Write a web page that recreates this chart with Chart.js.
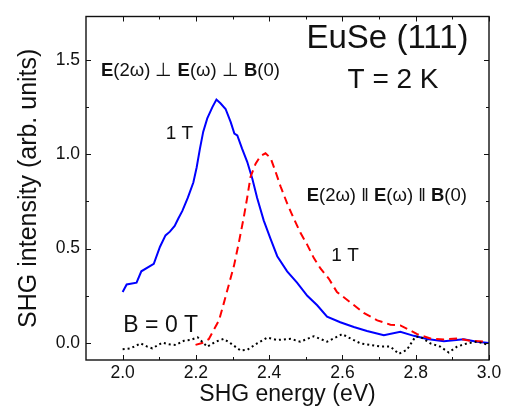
<!DOCTYPE html>
<html>
<head>
<meta charset="utf-8">
<script src="https://cdn.jsdelivr.net/npm/chart.js@4"></script>
<style>
  html, body { margin: 0; padding: 0; background: #fff; }
  #wrap { width: 507px; height: 408px; }
</style>
</head>
<body>
<div id="wrap"><canvas id="shg" width="507" height="408"></canvas></div>
<script>
// --- data ---
// E(2w) perp E(w) perp B(0), 1 T (blue solid)
const perpX = [2.000, 2.011, 2.038, 2.051, 2.085, 2.102, 2.117, 2.129, 2.142, 2.152, 2.163, 2.178, 2.193, 2.202,
  2.211, 2.220, 2.231, 2.245, 2.256, 2.267, 2.281, 2.295, 2.305, 2.313, 2.326, 2.340, 2.354, 2.367, 2.385, 2.404,
  2.422, 2.449, 2.476, 2.504, 2.531, 2.558, 2.594, 2.631, 2.667, 2.713, 2.758, 2.795, 2.831, 2.877, 2.931, 2.967, 3.000];
const perpY = [0.27, 0.31, 0.32, 0.38, 0.42, 0.51, 0.57, 0.59, 0.62, 0.66, 0.70, 0.77, 0.85, 0.93,
  1.03, 1.12, 1.19, 1.25, 1.29, 1.27, 1.24, 1.17, 1.11, 1.10, 1.03, 0.96, 0.87, 0.77, 0.65, 0.55,
  0.46, 0.38, 0.32, 0.25, 0.20, 0.14, 0.11, 0.085, 0.064, 0.041, 0.059, 0.038, 0.021, 0.010, 0.020, 0.007, 0.000];

// E(2w) || E(w) || B(0), 1 T (red dashed)
const parX = [2.199, 2.217, 2.235, 2.249, 2.263, 2.276, 2.290, 2.304, 2.317, 2.331, 2.340, 2.349, 2.363, 2.376,
  2.390, 2.404, 2.417, 2.431, 2.449, 2.467, 2.485, 2.504, 2.522, 2.540, 2.563, 2.585, 2.622, 2.658, 2.695,
  2.731, 2.758, 2.785, 2.804, 2.840, 2.877, 2.913, 2.949, 2.995];
const parY = [-0.01, 0.00, 0.02, 0.07, 0.12, 0.21, 0.31, 0.41, 0.53, 0.67, 0.77, 0.88, 0.95, 0.99,
  1.005, 0.98, 0.91, 0.83, 0.74, 0.66, 0.585, 0.52, 0.45, 0.395, 0.34, 0.27, 0.215, 0.16, 0.12,
  0.097, 0.093, 0.067, 0.047, 0.024, 0.019, 0.024, 0.012, 0.007];

// B = 0 T (black dotted)
const zeroX = [2.000, 2.022, 2.049, 2.067, 2.081, 2.108, 2.126, 2.145, 2.167, 2.185, 2.205, 2.231, 2.254, 2.276,
  2.295, 2.322, 2.340, 2.367, 2.395, 2.422, 2.458, 2.485, 2.522, 2.558, 2.576, 2.599, 2.622, 2.649, 2.676,
  2.704, 2.731, 2.754, 2.776, 2.799, 2.813, 2.840, 2.867, 2.890, 2.913, 2.940, 2.967, 3.000];
const zeroY = [-0.033, -0.028, -0.002, -0.019, -0.028, 0.002, -0.007, -0.010, 0.012, 0.016, 0.030, -0.020, 0.007, 0.022,
  -0.002, -0.040, -0.036, -0.002, 0.029, 0.016, 0.022, 0.007, 0.036, 0.007, 0.024, 0.047, 0.024, -0.002, -0.010,
  -0.019, -0.019, -0.057, -0.036, 0.033, 0.033, -0.002, -0.019, -0.050, -0.019, -0.002, 0.007, -0.010];

// axes
const xMin = 1.9, xMax = 3.0;
const yMin = -0.09, yMax = 1.73;
const xMajor = [2.0, 2.2, 2.4, 2.6, 2.8, 3.0];
const xMinor = [2.1, 2.3, 2.5, 2.7, 2.9];
const yMajor = [0.0, 0.5, 1.0, 1.5];
const yMinor = [0.25, 0.75, 1.25];

const FONT = '"Liberation Sans", Arial, sans-serif';
const INK = '#111';

const pts = (xs, ys) => xs.map((x, i) => ({ x, y: ys[i] }));

// text labels inside the plot: [parts, x, y, size] ; parts = [text, bold]
const notes = [
  [[['EuSe (111)', false]], 2.723, 1.61, 33],
  [[['T = 2 K', false]], 2.738, 1.39, 28],
  [[['E', true], ['(2\u03C9) \u22A5 ', false], ['E', true], ['(\u03C9) \u22A5 ', false], ['B', true], ['(0)', false]], 2.185, 1.44, 18.5],
  [[['1 T', false]], 2.155, 1.11, 19],
  [[['E', true], ['(2\u03C9) \u2016 ', false], ['E', true], ['(\u03C9) \u2016 ', false], ['B', true], ['(0)', false]], 2.721, 0.78, 18.5],
  [[['1 T', false]], 2.607, 0.46, 19],
  [[['B = 0 T', false]], 2.104, 0.09, 23],
];

function drawRich(ctx, parts, cx, cy, size) {
  let w = 0;
  parts.forEach(p => {
    ctx.font = (p[1] ? 'bold ' : '') + size + 'px ' + FONT;
    w += ctx.measureText(p[0]).width;
  });
  let x = cx - w / 2;
  parts.forEach(p => {
    ctx.font = (p[1] ? 'bold ' : '') + size + 'px ' + FONT;
    ctx.fillText(p[0], x, cy);
    x += ctx.measureText(p[0]).width;
  });
}

const framePlugin = {
  id: 'frame',
  afterDatasetsDraw(chart) {
    const { ctx, chartArea: a, scales: { x, y } } = chart;
    ctx.save();
    ctx.fillStyle = INK;
    ctx.textAlign = 'left';
    ctx.textBaseline = 'middle';
    notes.forEach(n => drawRich(ctx, n[0], x.getPixelForValue(n[1]), y.getPixelForValue(n[2]), n[3]));

    ctx.strokeStyle = INK;
    ctx.lineWidth = 1.4;
    ctx.strokeRect(a.left, a.top, a.right - a.left, a.bottom - a.top);

    // inward ticks on all four sides
    ctx.lineWidth = 1;
    ctx.beginPath();
    const xt = (v, len) => {
      const px = Math.round(x.getPixelForValue(v)) + 0.5;
      ctx.moveTo(px, a.bottom); ctx.lineTo(px, a.bottom - len);
      ctx.moveTo(px, a.top); ctx.lineTo(px, a.top + len);
    };
    const yt = (v, len) => {
      const py = Math.round(y.getPixelForValue(v)) + 0.5;
      ctx.moveTo(a.left, py); ctx.lineTo(a.left + len, py);
      ctx.moveTo(a.right, py); ctx.lineTo(a.right - len, py);
    };
    xMajor.forEach(v => xt(v, 5));
    xMinor.forEach(v => xt(v, 3));
    yMajor.forEach(v => yt(v, 5));
    yMinor.forEach(v => yt(v, 3));
    ctx.stroke();
    ctx.restore();
  }
};

new Chart(document.getElementById('shg').getContext('2d'), {
  type: 'scatter',
  data: {
    datasets: [
      {
        label: '0 T',
        data: pts(zeroX, zeroY),
        showLine: true,
        borderColor: '#000',
        borderWidth: 2,
        borderDash: [2, 3],
        pointRadius: 0,
        tension: 0,
      },
      {
        label: 'par 1 T',
        data: pts(parX, parY),
        showLine: true,
        borderColor: '#ff0000',
        borderWidth: 2,
        borderDash: [8, 5],
        pointRadius: 0,
        tension: 0,
      },
      {
        label: 'perp 1 T',
        data: pts(perpX, perpY),
        showLine: true,
        borderColor: '#0000ff',
        borderWidth: 2,
        pointRadius: 0,
        tension: 0,
      },
    ]
  },
  options: {
    responsive: false,
    animation: false,
    layout: { padding: { top: 9, right: 18, left: 0, bottom: 0 } },
    plugins: {
      legend: { display: false },
      tooltip: { enabled: false }
    },
    scales: {
      x: {
        type: 'linear',
        min: xMin, max: xMax,
        grid: { display: false, drawTicks: false },
        border: { display: false },
        afterBuildTicks: s => { s.ticks = xMajor.map(v => ({ value: v })); },
        afterFit: s => { s.height = 48; },
        ticks: {
          padding: 3,
          color: INK,
          font: { family: FONT, size: 17.5 },
          maxRotation: 0,
          callback: v => v.toFixed(1)
        },
        title: {
          display: true,
          text: 'SHG energy (eV)',
          color: INK,
          font: { family: FONT, size: 23 },
          padding: { top: 0, bottom: 0 }
        }
      },
      y: {
        type: 'linear',
        min: yMin, max: yMax,
        grid: { display: false, drawTicks: false },
        border: { display: false },
        afterBuildTicks: s => { s.ticks = yMajor.map(v => ({ value: v })); },
        afterFit: s => { s.width = 86; },
        ticks: {
          padding: 6,
          color: INK,
          font: { family: FONT, size: 17.5 },
          callback: v => v.toFixed(1)
        },
        title: {
          display: true,
          text: 'SHG intensity (arb. units)',
          color: INK,
          font: { family: FONT, size: 25 },
          padding: { top: 14, bottom: 0 }
        }
      }
    }
  },
  plugins: [framePlugin]
});
</script>
</body>
</html>
